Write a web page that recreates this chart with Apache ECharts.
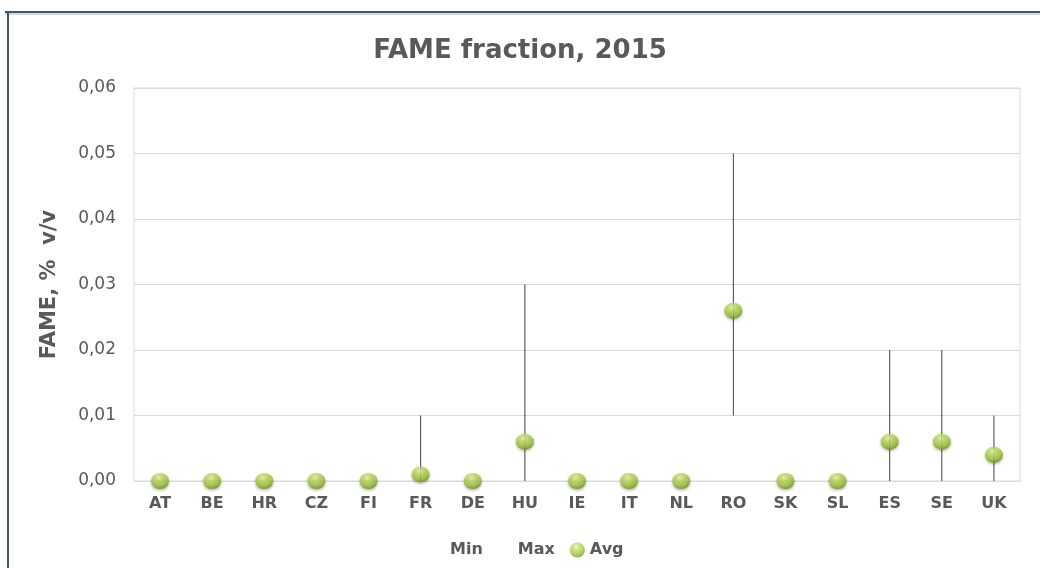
<!DOCTYPE html>
<html>
<head>
<meta charset="utf-8">
<script src="https://cdn.jsdelivr.net/npm/echarts@6/dist/echarts.min.js"></script>
<style>
  html, body { margin: 0; padding: 0; background: #fff; }
</style>
</head>
<body>
<div id="main" style="width:1040px;height:568px;"></div>
<script>
// categories and values
var countries = ['AT', 'BE', 'HR', 'CZ', 'FI', 'FR', 'DE', 'HU', 'IE', 'IT', 'NL', 'RO', 'SK', 'SL', 'ES', 'SE', 'UK'];
var minVals = [0, 0, 0, 0, 0, 0, 0, 0, 0, 0, 0, 0.01, 0, 0, 0, 0, 0];
var maxVals = [0, 0, 0, 0, 0, 0.01, 0, 0.03, 0, 0, 0, 0.05, 0, 0, 0.02, 0.02, 0.01];
var avgVals = [0, 0, 0, 0, 0, 0.001, 0, 0.006, 0, 0, 0, 0.026, 0, 0, 0.006, 0.006, 0.004];

var txt = '#595959';
var font = '"DejaVu Sans", "Liberation Sans", sans-serif';

// high-low lines from min to max
var hiLo = countries.map(function (c, i) {
    return [i, minVals[i], maxVals[i]];
});

var chart = echarts.init(document.getElementById('main'));
chart.setOption({
    backgroundColor: '#fff',
    title: {
        text: 'FAME fraction, 2015',
        left: 'center',
        top: 33,
        textStyle: { color: txt, fontSize: 26, fontWeight: 'bold', fontFamily: font }
    },
    graphic: [
        // outer frame, top and left edges only
        { type: 'rect', shape: { x: 5, y: 11, width: 1040, height: 2 }, style: { fill: '#44546a' } },
        { type: 'rect', shape: { x: 5, y: 13, width: 1040, height: 2 }, style: { fill: '#d6dce4' } },
        { type: 'rect', shape: { x: 7, y: 11, width: 2, height: 560 }, style: { fill: '#44546a' } }
    ],
    legend: {
        left: 425,
        top: 537,
        itemWidth: 15,
        itemHeight: 15,
        itemGap: 15,
        textStyle: { color: txt, fontSize: 16, fontWeight: 'bold', fontFamily: font },
        data: [
            { name: 'Min', icon: 'none' },
            { name: 'Max', icon: 'none' },
            { name: 'Avg', icon: 'circle' }
        ]
    },
    grid: {
        left: 134, right: 20, top: 88, bottom: 87,
        show: true, borderColor: '#d9d9d9', borderWidth: 1
    },
    xAxis: {
        type: 'category',
        data: countries,
        axisLine: { lineStyle: { color: '#d9d9d9' } },
        axisTick: { show: false },
        axisLabel: { color: txt, fontSize: 16, fontWeight: 'bold', fontFamily: font, margin: 15 }
    },
    yAxis: {
        type: 'value',
        min: 0,
        max: 0.06,
        interval: 0.01,
        name: 'FAME, %  v/v',
        nameLocation: 'middle',
        nameGap: 74,
        nameTextStyle: { color: txt, fontSize: 21, fontWeight: 'bold', fontFamily: font },
        axisLine: { show: false },
        axisTick: { show: false },
        splitLine: { lineStyle: { color: '#d9d9d9' } },
        axisLabel: {
            color: txt, fontSize: 17, fontFamily: font, margin: 18,
            formatter: function (v) { return v.toFixed(2).replace('.', ','); }
        }
    },
    series: [
        {
            name: 'Min', type: 'line', data: minVals,
            showSymbol: false, lineStyle: { width: 0, opacity: 0 }, silent: true
        },
        {
            name: 'Max', type: 'line', data: maxVals,
            showSymbol: false, lineStyle: { width: 0, opacity: 0 }, silent: true
        },
        {
            name: 'HiLo',
            type: 'custom',
            data: hiLo,
            z: 1,
            renderItem: function (params, api) {
                var p1 = api.coord([api.value(0), api.value(1)]);
                var p2 = api.coord([api.value(0), api.value(2)]);
                return {
                    type: 'line',
                    shape: { x1: p1[0], y1: p1[1], x2: p2[0], y2: p2[1] },
                    style: { stroke: '#404040', lineWidth: 1 }
                };
            }
        },
        {
            name: 'Avg',
            type: 'scatter',
            data: avgVals,
            z: 5,
            symbol: 'circle',
            symbolSize: [18, 16],
            itemStyle: {
                color: {
                    type: 'radial', x: 0.42, y: 0.3, r: 0.72,
                    colorStops: [
                        { offset: 0, color: '#eef8bf' },
                        { offset: 0.25, color: '#c6e168' },
                        { offset: 0.7, color: '#9dc23b' },
                        { offset: 1, color: '#6c8e20' }
                    ]
                },
                shadowColor: 'rgba(40,50,10,0.45)',
                shadowBlur: 3,
                shadowOffsetY: 1.5
            }
        }
    ]
});
</script>
</body>
</html>
